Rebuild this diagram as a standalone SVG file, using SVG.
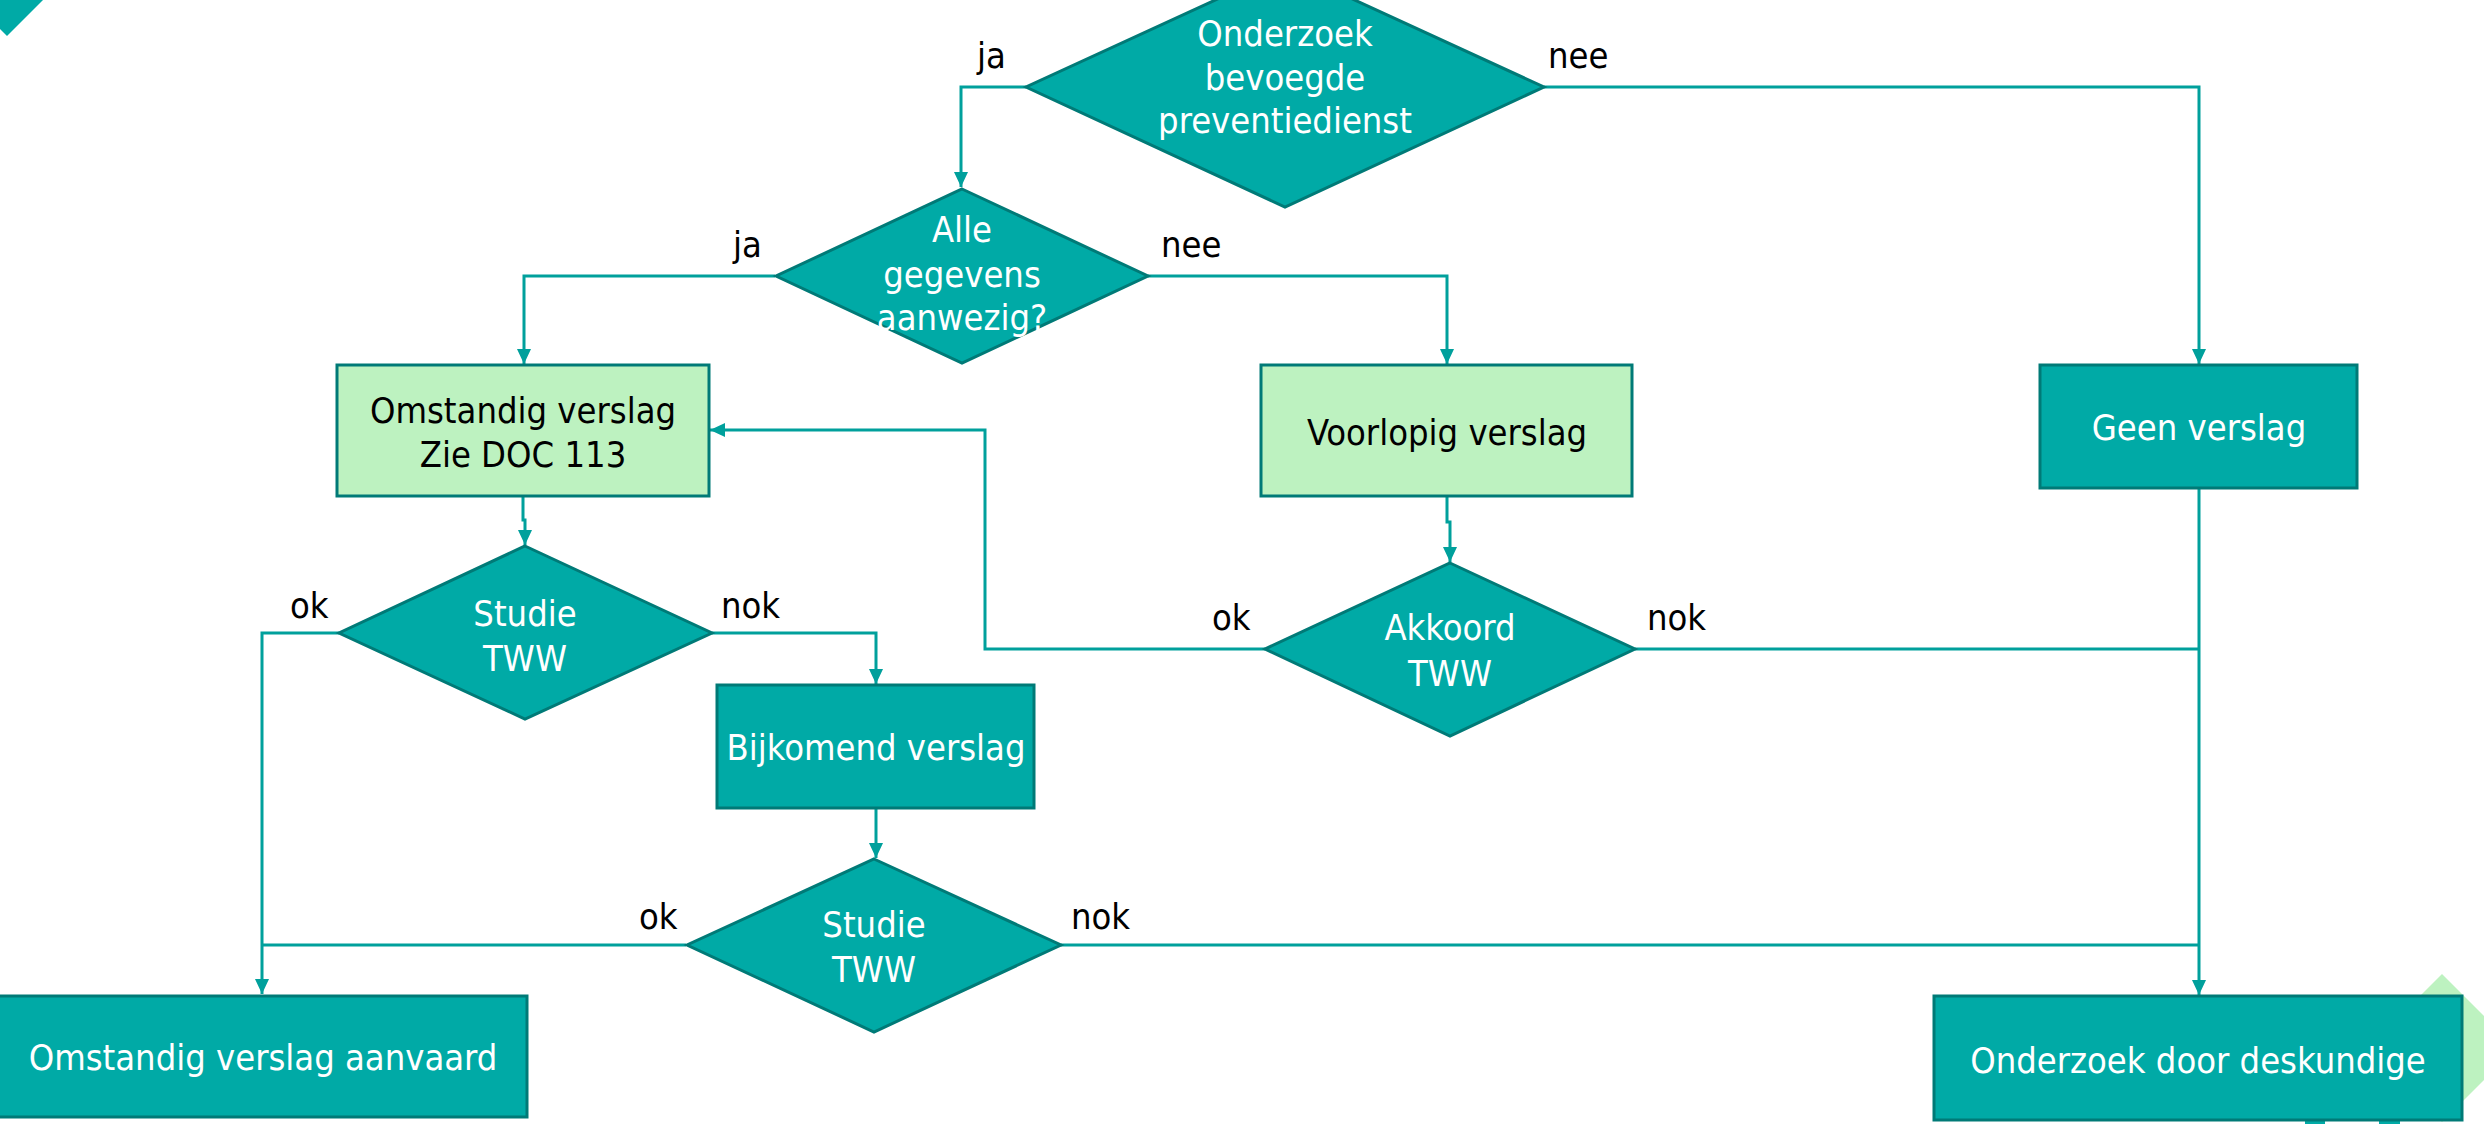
<svg xmlns="http://www.w3.org/2000/svg" width="2484" height="1124" viewBox="0 0 2484 1124">
<style>
text{font-family:"DejaVu Sans Condensed","DejaVu Sans",sans-serif;font-stretch:condensed;font-size:36px}
.dark{fill:#00AAA6;stroke:#007A77;stroke-width:3}
.light{fill:#BDF2C0;stroke:#007A77;stroke-width:3}
.w{fill:#FFFFFF;text-anchor:middle}
.b{fill:#000000;text-anchor:middle}
.lbl{fill:#000000}
.c{fill:none;stroke:#00A09C;stroke-width:3}
.ca{fill:none;stroke:#00A09C;stroke-width:3;marker-end:url(#arr)}
</style>
<defs>
<marker id="arr" markerWidth="16" markerHeight="16" refX="15" refY="7" orient="auto" markerUnits="userSpaceOnUse">
<path d="M0,0 L15,7 L0,14 z" fill="#00A09C"/>
</marker>
</defs>
<rect width="2484" height="1124" fill="#FFFFFF"/>
<g id="decor">
<polygon points="0,0 43,0 7,36 0,29" fill="#00AAA6"/>
<polygon points="2442,974 2516,1048 2442,1122 2368,1048" fill="#BDF2C0"/>
<rect x="2305" y="1120" width="20" height="4" fill="#00AAA6"/>
<rect x="2379" y="1120" width="21" height="4" fill="#00AAA6"/>
</g>
<g id="connectors">
<path class="ca" d="M1026 87 H961 V187"/>
<path class="ca" d="M1544 87 H2199 V364"/>
<path class="ca" d="M775 276 H524 V364"/>
<path class="ca" d="M1148 276 H1447 V364"/>
<path class="ca" d="M523 496 V520 H525 V545"/>
<path class="ca" d="M1447 496 V522 H1450 V562"/>
<path class="ca" d="M339 633 H262 V994"/>
<path class="ca" d="M712 633 H876 V684"/>
<path class="ca" d="M876 808 V858"/>
<path class="c" d="M686 945 H262"/>
<path class="c" d="M1061 945 H2199"/>
<path class="ca" d="M2199 488 V995"/>
<path class="ca" d="M1265 649 H985 V430 H710"/>
<path class="c" d="M1635 649 H2199"/>
</g>
<g id="labels">
<text class="lbl" x="977" y="68">ja</text>
<text class="lbl" x="1548" y="68">nee</text>
<text class="lbl" x="733" y="257">ja</text>
<text class="lbl" x="1161" y="257">nee</text>
<text class="lbl" x="290" y="618">ok</text>
<text class="lbl" x="721" y="618">nok</text>
<text class="lbl" x="1212" y="630">ok</text>
<text class="lbl" x="1647" y="630">nok</text>
<text class="lbl" x="639" y="929">ok</text>
<text class="lbl" x="1071" y="929">nok</text>
</g>
<g id="d1">
<polygon class="dark" points="1285,-32 1544,87 1285,207 1026,87"/>
<text class="w" x="1285" y="46">Onderzoek</text>
<text class="w" x="1285" y="90">bevoegde</text>
<text class="w" x="1285" y="133">preventiedienst</text>
</g>
<g id="d2">
<polygon class="dark" points="962,189 1148,276 962,363 776,276"/>
<text class="w" x="962" y="242">Alle</text>
<text class="w" x="962" y="287">gegevens</text>
<text class="w" x="962" y="330">aanwezig?</text>
</g>
<g id="omstandig">
<rect class="light" x="337" y="365" width="372" height="131"/>
<text class="b" x="523" y="423">Omstandig verslag</text>
<text class="b" x="523" y="467">Zie DOC 113</text>
</g>
<g id="voorlopig">
<rect class="light" x="1261" y="365" width="371" height="131"/>
<text class="b" x="1447" y="445">Voorlopig verslag</text>
</g>
<g id="geen">
<rect class="dark" x="2040" y="365" width="317" height="123"/>
<text class="w" x="2199" y="440">Geen verslag</text>
</g>
<g id="d3">
<polygon class="dark" points="525,546 712,633 525,719 339,633"/>
<text class="w" x="525" y="626">Studie</text>
<text class="w" x="525" y="671">TWW</text>
</g>
<g id="bijkomend">
<rect class="dark" x="717" y="685" width="317" height="123"/>
<text class="w" x="876" y="760">Bijkomend verslag</text>
</g>
<g id="d4">
<polygon class="dark" points="874,859 1061,945 874,1032 687,945"/>
<text class="w" x="874" y="937">Studie</text>
<text class="w" x="874" y="982">TWW</text>
</g>
<g id="akkoord">
<polygon class="dark" points="1450,563 1635,649 1450,736 1265,649"/>
<text class="w" x="1450" y="640">Akkoord</text>
<text class="w" x="1450" y="686">TWW</text>
</g>
<g id="aanvaard">
<rect class="dark" x="-2" y="996" width="529" height="121"/>
<text class="w" x="263" y="1070">Omstandig verslag aanvaard</text>
</g>
<g id="deskundige">
<rect class="dark" x="1934" y="996" width="528" height="124"/>
<text class="w" x="2198" y="1073">Onderzoek door deskundige</text>
</g>
</svg>
